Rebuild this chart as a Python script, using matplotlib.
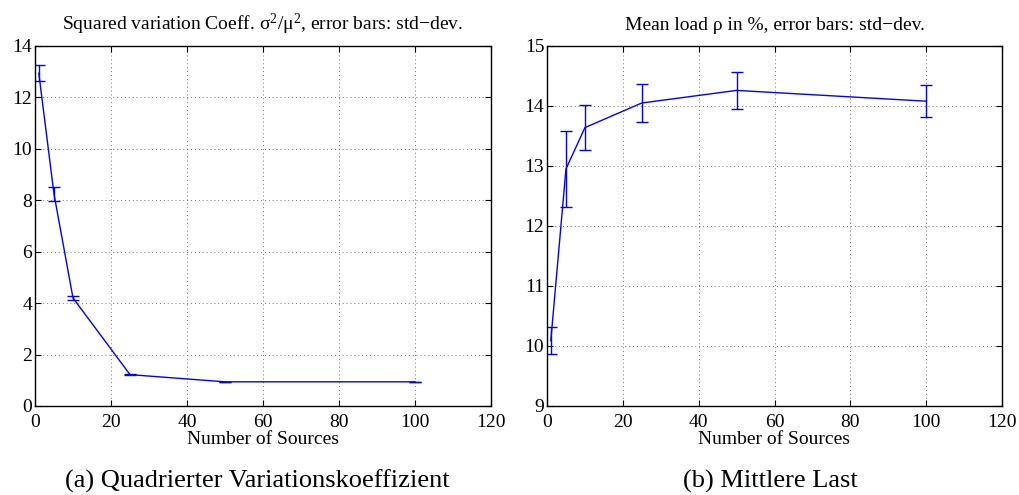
import numpy as np
import matplotlib
matplotlib.use('Agg')
import matplotlib.pyplot as plt

plt.rcParams['font.family'] = ['Liberation Serif', 'DejaVu Serif']
plt.rcParams['mathtext.fontset'] = 'custom'
plt.rcParams['mathtext.rm'] = 'Liberation Serif'
plt.rcParams['mathtext.it'] = 'Liberation Serif:italic'

n_sources = [1, 5, 10, 25, 50, 100]

# squared variation coefficient
cv2_mean = [12.94, 8.24, 4.20, 1.22, 0.94, 0.94]
cv2_std = [0.32, 0.27, 0.08, 0.02, 0.01, 0.01]

# mean load in %
load_mean = [10.09, 12.95, 13.64, 14.05, 14.26, 14.08]
load_std = [0.23, 0.64, 0.37, 0.32, 0.31, 0.265]

titles = ['Squared variation Coeff. σ$^2$/μ$^2$, error bars: std\u2212dev.',
          'Mean load ρ in %, error bars: std\u2212dev.']
captions = ['(a) Quadrierter Variationskoeffizient', '(b) Mittlere Last']

fs = 14
W, H = 1019, 495
fig = plt.figure(figsize=(W / 100, H / 100), dpi=100)
ax1 = fig.add_axes([35 / W, 1 - 406 / H, 456 / W, 360 / H])
ax2 = fig.add_axes([547 / W, 1 - 406 / H, 455 / W, 360 / H])

for ax, m, s, ylim, yt, title in [
        (ax1, cv2_mean, cv2_std, (0, 14), np.arange(0, 15, 2), titles[0]),
        (ax2, load_mean, load_std, (9, 15), np.arange(9, 16, 1), titles[1])]:
    ax.errorbar(n_sources, m, yerr=s, color='#0000ff', lw=1.0,
                elinewidth=1.0, capsize=4, capthick=1.0)
    ax.set_xlim(0, 120)
    ax.set_ylim(*ylim)
    ax.set_xticks(np.arange(0, 121, 20))
    ax.set_yticks(yt)
    ax.grid(True, linestyle=(0, (1, 3)), color='0.45', lw=0.7)
    ax.tick_params(direction='in', top=True, right=True, length=4,
                   width=0.8, labelsize=fs)
    ax.tick_params(axis='x', pad=6)
    ax.tick_params(axis='y', pad=2)
    for sp in ax.spines.values():
        sp.set_linewidth(1.0)
    ax.set_xlabel('Number of Sources', fontsize=fs, labelpad=0)
    ax.text(0.5, 1.045, title, transform=ax.transAxes, ha='center',
            va='baseline', fontsize=fs)

fig.text(257 / W, 1 - 481 / H, captions[0], ha='center', va='center', fontsize=19)
fig.text(770 / W, 1 - 481 / H, captions[1], ha='center', va='center', fontsize=19)

fig.savefig('out.png', dpi=100)
